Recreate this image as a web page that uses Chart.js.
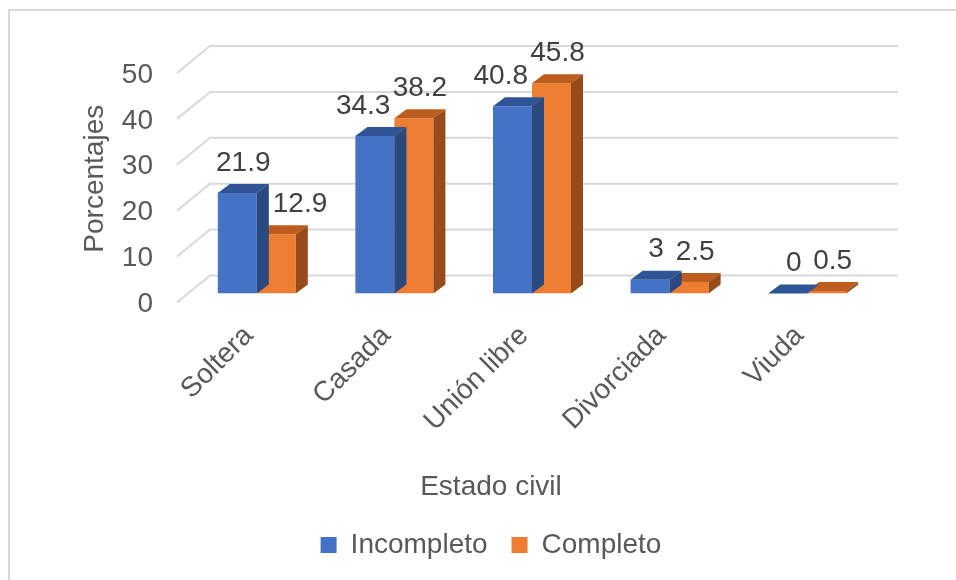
<!DOCTYPE html>
<html lang="es">
<head>
<meta charset="utf-8">
<title>Estado civil</title>
<script src="https://cdn.jsdelivr.net/npm/chart.js@4.4.1/dist/chart.umd.min.js"></script>
<style>
  html, body { margin: 0; padding: 0; background: #fff; }
  #chart { display: block; }
</style>
</head>
<body>
<canvas id="chart" width="956" height="580"></canvas>
<script>
// Datos
const categorias = ["Soltera", "Casada", "Unión libre", "Divorciada", "Viuda"];
const incompleto = [21.9, 34.3, 40.8, 3, 0];
const completo = [12.9, 38.2, 45.8, 2.5, 0.5];
const yTicks = [0, 10, 20, 30, 40, 50];

const FONT = '"Liberation Sans", Arial, sans-serif';
const FS = 28;
const GRAY = "#595959";

// profundidad de las barras y de la pared del fondo
const BAR_DX = 12, BAR_DY = 9;
const WALL_DX = 22, WALL_DY = 18;
const FLOOR_DX = 11, FLOOR_DY = 9;

const SHADES = [
  { top: "#2F5597", side: "#29497F" },
  { top: "#BC5C1E", side: "#974A1B" },
];

// borde del gráfico + fondo blanco
const frame = {
  id: "frame",
  beforeDraw(chart) {
    const { ctx, width, height } = chart;
    ctx.save();
    ctx.fillStyle = "#fff";
    ctx.fillRect(0, 0, width, height);
    ctx.fillStyle = "#d9d9d9";
    ctx.fillRect(8, 9, width - 8, 2);
    ctx.fillRect(8, 9, 2, height - 9);
    ctx.restore();
  },
};

// caja ocupada por una barra con su cara superior y lateral
function barBox(bar) {
  const { x, y, base, width } = bar.getProps(["x", "y", "base", "width"], true);
  return { l: x - width / 2, r: x + width / 2 + BAR_DX, t: y - BAR_DY, b: base };
}

// líneas de la pared (fondo y lateral), caras 3D y etiquetas
const bars3d = {
  id: "bars3d",
  beforeDatasetsDraw(chart) {
    const { ctx, chartArea: a, scales: { y } } = chart;
    ctx.save();
    ctx.strokeStyle = "#d9d9d9";
    ctx.lineWidth = 2;
    yTicks.forEach((v) => {
      const py = y.getPixelForValue(v);
      ctx.beginPath();
      ctx.moveTo(a.left - FLOOR_DX, py + FLOOR_DY);
      ctx.lineTo(a.left + WALL_DX, py - WALL_DY);
      ctx.lineTo(a.right + WALL_DX, py - WALL_DY);
      ctx.stroke();
    });
    ctx.restore();
  },
  afterDatasetDraw(chart, args) {
    const { ctx } = chart;
    const shade = SHADES[args.index];
    ctx.save();
    args.meta.data.forEach((bar) => {
      const { x, y, base, width } = bar.getProps(["x", "y", "base", "width"], true);
      const l = x - width / 2, r = x + width / 2;
      // cara superior
      ctx.fillStyle = shade.top;
      ctx.beginPath();
      ctx.moveTo(l, y);
      ctx.lineTo(l + BAR_DX, y - BAR_DY);
      ctx.lineTo(r + BAR_DX, y - BAR_DY);
      ctx.lineTo(r, y);
      ctx.closePath();
      ctx.fill();
      // cara lateral
      if (base - y > 0.5) {
        ctx.fillStyle = shade.side;
        ctx.beginPath();
        ctx.moveTo(r, y);
        ctx.lineTo(r + BAR_DX, y - BAR_DY);
        ctx.lineTo(r + BAR_DX, base - BAR_DY);
        ctx.lineTo(r, base);
        ctx.closePath();
        ctx.fill();
      }
    });
    ctx.restore();
  },
  afterDraw(chart) {
    const { ctx } = chart;
    ctx.save();
    ctx.font = `${FS}px ${FONT}`;
    ctx.fillStyle = "#404040";
    ctx.textAlign = "center";
    ctx.textBaseline = "middle";
    const metas = chart.data.datasets.map((_, i) => chart.getDatasetMeta(i));
    chart.data.datasets.forEach((ds, i) => {
      metas[i].data.forEach((bar, j) => {
        const { x, y } = bar.getProps(["x", "y"], true);
        const txt = String(ds.data[j]);
        const w = ctx.measureText(txt).width;
        let cx = x + BAR_DX / 2;
        const cy = y - 30;
        // apartar la etiqueta de la otra barra de la misma categoría
        const other = barBox(metas[1 - i].data[j]);
        const hitsY = cy + FS / 2 > other.t && cy - FS / 2 < other.b;
        const hitsX = cx + w / 2 > other.l && cx - w / 2 < other.r;
        if (hitsY && hitsX) {
          cx = i === 0 ? other.l - 4 - w / 2 : other.r + 4 + w / 2;
        }
        ctx.fillText(txt, cx, cy);
      });
    });
    ctx.restore();
  },
};

new Chart(document.getElementById("chart"), {
  type: "bar",
  data: {
    labels: categorias,
    datasets: [
      { label: "Incompleto", data: incompleto, backgroundColor: "#4472C4" },
      { label: "Completo", data: completo, backgroundColor: "#ED7D31" },
    ],
  },
  options: {
    responsive: false,
    animation: false,
    layout: { padding: { left: 78, right: 52, top: 64, bottom: 11 } },
    datasets: {
      bar: { categoryPercentage: 0.567, barPercentage: 1.0, borderWidth: 0 },
    },
    plugins: {
      tooltip: { enabled: false },
      title: {
        display: true,
        text: "Estado civil",
        position: "bottom",
        weight: 500,
        color: GRAY,
        font: { family: FONT, size: FS, weight: "normal", lineHeight: 1.2 },
        padding: { top: 27, bottom: 3 },
      },
      legend: {
        position: "bottom",
        labels: {
          color: GRAY,
          font: { family: FONT, size: FS },
          boxWidth: 16,
          boxHeight: 16,
          padding: 24,
        },
      },
    },
    scales: {
      x: {
        grid: { display: false, drawTicks: false },
        border: { display: false },
        ticks: {
          color: GRAY,
          font: { family: FONT, size: FS },
          autoSkip: false,
          minRotation: 45,
          maxRotation: 45,
          padding: 26,
          labelOffset: -8,
        },
        afterFit(s) { s.height = 150; },
      },
      y: {
        min: 0,
        max: 50,
        grid: { display: false, drawTicks: false },
        border: { display: false },
        ticks: {
          stepSize: 10,
          color: GRAY,
          font: { family: FONT, size: FS },
          padding: 35,
          labelOffset: 11,
        },
        title: {
          display: true,
          text: "Porcentajes",
          color: GRAY,
          font: { family: FONT, size: FS, lineHeight: 1.2 },
          padding: { top: 0, bottom: 0 },
        },
        afterFit(s) { s.width = 110; },
      },
      // margen derecho del área de trazado
      yRight: {
        position: "right",
        grid: { display: false, drawTicks: false },
        border: { display: false },
        ticks: { display: false },
        afterFit(s) { s.width = 28; },
      },
    },
  },
  plugins: [frame, bars3d],
});
</script>
</body>
</html>
